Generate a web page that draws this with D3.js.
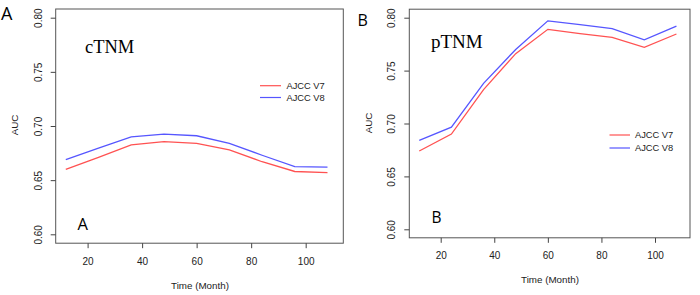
<!DOCTYPE html>
<html><head><meta charset="utf-8">
<script src="https://cdn.jsdelivr.net/npm/d3@7"></script>
<style>
html,body{margin:0;padding:0;background:#fff;}
svg{display:block;}
text{font-family:"Liberation Sans",Arial,sans-serif;}
</style></head>
<body><svg id="chart" width="700" height="295"></svg>
<script>
const months = [12,24,36,48,60,72,84,96,108];
const cTNM_v7 = [0.660,0.671,0.6825,0.6855,0.684,0.678,0.667,0.658,0.657];
const cTNM_v8 = [0.669,0.6795,0.690,0.6925,0.691,0.684,0.673,0.6625,0.662];
const pTNM_v7 = [0.674,0.690,0.732,0.766,0.789,0.785,0.7815,0.772,0.7846];
const pTNM_v8 = [0.684,0.6965,0.738,0.770,0.797,0.7935,0.7896,0.779,0.792];
const xTicks = [20,40,60,80,100];
const yTicks = [0.60,0.65,0.70,0.75,0.80];
const seriesNames = ["AJCC V7","AJCC V8"];
const colors = ["#ff5252","#5656ff"];

const svg = d3.select("#chart");

const panels = [
  {name:"cTNM", letter:"A", v7:cTNM_v7, v8:cTNM_v8,
   box:{x0:55.7,x1:343.3,y0:9,y1:243.2}, xd:[8.3,113.8], yr:[234.3,17.7],
   xlabY:21.8, titleY:289, titleX:200, aucX:15, aucY:125, ylabOff:17.7,
   outer:{x:1,y:20,size:18}, tag:{x:85,y:53.3,size:18.5}, inner:{x:77.5,y:230,size:16.5},
   leg:{x0:260,x1:281,tx:286.5,y:[85.7,97.5]}},
  {name:"pTNM", letter:"B", v7:pTNM_v7, v8:pTNM_v8,
   box:{x0:409.3,x1:690,y0:9.2,y1:237.8}, xd:[8.28,113.06], yr:[229.3,17.7],
   xlabY:21, titleY:283, titleX:550, aucX:369, aucY:123, ylabOff:17.6,
   outer:{x:357.5,y:26,size:16}, tag:{x:431,y:48.3,size:19}, inner:{x:431.5,y:223,size:15.5},
   leg:{x0:609.5,x1:630,tx:635,y:[135,148]}}
];

panels.forEach(p => {
  const b = p.box;
  const x = d3.scaleLinear().domain(p.xd).range([b.x0,b.x1]);
  const y = d3.scaleLinear().domain([0.6,0.8]).range(p.yr);
  const g = svg.append("g");

  // lines
  const line = d3.line().x((d,i)=>x(months[i])).y(d=>y(d));
  [p.v7,p.v8].forEach((vals,k)=>{
    g.append("path").datum(vals).attr("d",line)
      .attr("fill","none").attr("stroke",colors[k]).attr("stroke-width",1.3);
  });

  // box
  g.append("rect").attr("x",b.x0).attr("y",b.y0)
    .attr("width",b.x1-b.x0).attr("height",b.y1-b.y0)
    .attr("fill","none").attr("stroke","#555").attr("stroke-width",1);

  // x axis
  const xa = g.append("g").attr("transform",`translate(0,${b.y1})`)
    .call(d3.axisBottom(x).tickValues(xTicks).tickSize(5).tickFormat(d3.format("d")));
  xa.select(".domain").remove();
  xa.selectAll("line").attr("stroke","#444");
  xa.selectAll("text").attr("y",p.xlabY).attr("dy",0)
    .attr("font-size","10px").attr("fill","#222")
    .style("font-family","'Liberation Sans',Arial,sans-serif");

  // y axis
  const ya = g.append("g").attr("transform",`translate(${b.x0},0)`)
    .call(d3.axisLeft(y).tickValues(yTicks).tickSize(5).tickFormat(d3.format(".2f")));
  ya.select(".domain").remove();
  ya.selectAll("line").attr("stroke","#444");
  ya.selectAll("text").attr("transform","rotate(-90)")
    .attr("x",0).attr("y",-p.ylabOff).attr("dy","0.35em")
    .attr("text-anchor","middle").attr("font-size","10px").attr("fill","#222")
    .style("font-family","'Liberation Sans',Arial,sans-serif");

  // axis titles
  g.append("text").attr("x",p.titleX).attr("y",p.titleY)
    .attr("text-anchor","middle").attr("font-size","9.8px").attr("fill","#222")
    .text("Time (Month)");
  g.append("text").attr("transform",`translate(${p.aucX},${p.aucY}) rotate(-90)`)
    .attr("text-anchor","middle").attr("dy","0.35em")
    .attr("font-size","9.8px").attr("fill","#222").text("AUC");

  // legend
  seriesNames.forEach((s,k)=>{
    g.append("line").attr("x1",p.leg.x0).attr("x2",p.leg.x1)
      .attr("y1",p.leg.y[k]).attr("y2",p.leg.y[k])
      .attr("stroke",colors[k]).attr("stroke-width",1.2);
    g.append("text").attr("x",p.leg.tx).attr("y",p.leg.y[k]).attr("dy","0.35em")
      .attr("font-size","9.3px").attr("fill","#222").text(s);
  });

  // labels
  g.append("text").attr("x",p.outer.x).attr("y",p.outer.y)
    .attr("font-size",p.outer.size+"px").attr("fill","#000")
    .style("font-family","'Open Sans','Liberation Sans',sans-serif").text(p.letter);
  g.append("text").attr("x",p.tag.x).attr("y",p.tag.y)
    .attr("font-size",p.tag.size+"px").attr("fill","#000")
    .style("font-family","'Liberation Serif','Times New Roman',serif").text(p.name);
  g.append("text").attr("x",p.inner.x).attr("y",p.inner.y)
    .attr("font-size",p.inner.size+"px").attr("fill","#000")
    .style("font-family","'Open Sans','Liberation Sans',sans-serif").text(p.letter);
});
</script></body></html>
